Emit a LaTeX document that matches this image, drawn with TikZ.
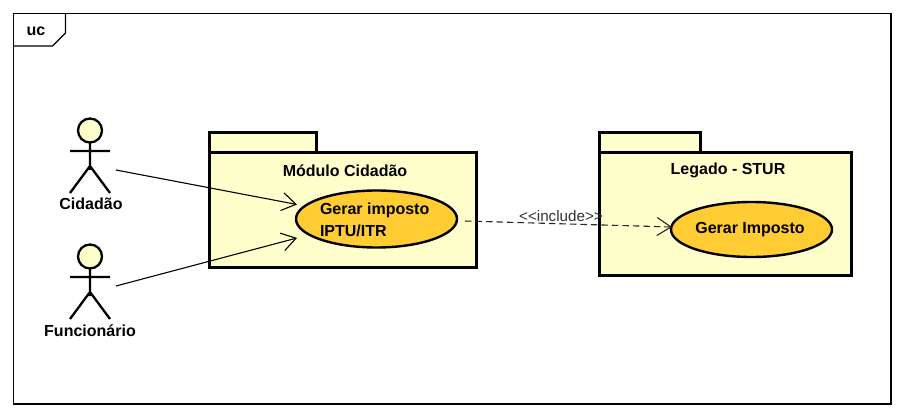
\documentclass[tikz,border=0pt]{standalone}
\usepackage{fontspec}
\setmainfont{Liberation Sans}
\usetikzlibrary{arrows.meta,shapes.geometric,calc}
\definecolor{pale}{HTML}{FFFFCC}
\definecolor{usecase}{HTML}{FFCC33}
\tikzset{
  x=1pt,y=-1pt,
  frame/.style={draw=black,line width=1.1pt},
  pkg/.style={draw=black,fill=pale,line width=3pt,line join=miter},
  ucase/.style={draw=black,fill=usecase,ellipse,line width=2.4pt,inner sep=0pt,outer sep=0pt},
  boldtext/.style={font=\fontsize{16}{22}\selectfont\bfseries,text=black,inner sep=0pt,outer sep=0pt},
  thintext/.style={font=\fontsize{15.2}{16}\selectfont,text=black!80,inner sep=0pt},
  figure/.style={draw=black,line width=2.3pt},
  actorbox/.style={minimum width=52pt,minimum height=48pt,inner sep=0pt,outer sep=0pt},
  assoc/.style={draw=black,line width=1.1pt,-{Straight Barb[length=14pt,width=18pt,line width=1.1pt]}},
  incl/.style={draw=black!85,line width=1.1pt,dash pattern=on 6.5pt off 4pt,-{Straight Barb[length=14pt,width=18pt,line width=1.1pt]}},
}
\newcommand{\stickman}[2]{%
  \draw[figure,fill=pale] (#1,#2-39.5) circle (12);
  \draw[figure] (#1,#2-27) -- (#1,#2+0)
    (#1-20,#2-19) -- (#1+20,#2-19)
    (#1-20,#2+23) -- (#1,#2-4) -- (#1+20,#2+23);
}
\begin{document}
\begin{tikzpicture}
\useasboundingbox (0,0) rectangle (905,417);
\fill[white] (0,0) rectangle (905,417);
% frame
\draw[frame] (13.5,13.5) rectangle (891,404);
\draw[frame] (65.5,13.5) -- (65.5,33) -- (52.5,46) -- (13.5,46);
\node[boldtext] (uclabel) at (36,31) {uc};
% packages
\draw[pkg] (209.5,152.5) rectangle (316.5,132.5);
\draw[pkg] (209.5,152.5) rectangle (476,267.5);
\node[boldtext] (modulo) at (345,170.5) {Módulo Cidadão};
\draw[pkg] (599.5,152.5) rectangle (700.5,132.5);
\draw[pkg] (599.5,152.5) rectangle (851,275.5);
\node[boldtext] (legado) at (728,170.5) {Legado - STUR};
% use cases
\node[ucase,minimum width=161pt,minimum height=57pt] (uc1) at (376.5,219) {};
\node[boldtext,anchor=west,align=left] (uc1text) at (320,220) {Gerar imposto\\IPTU/ITR};
\node[ucase,minimum width=161pt,minimum height=55pt] (uc2) at (751.5,229.5) {};
\node[boldtext] (uc2text) at (750,229.5) {Gerar Imposto};
% actors
\node[actorbox] (cidadao) at (90,170) {};
\stickman{90}{170}
\node[boldtext] (cidlabel) at (91,203.5) {Cidadão};
\node[actorbox] (funcionario) at (90,296) {};
\stickman{90}{296}
\node[boldtext] (funclabel) at (90,330.5) {Funcionário};
% connectors
\coordinate (t1) at ($(uc1.west)+(1,-14.5)$);
\coordinate (t2) at ($(uc1.west)+(1,19)$);
\coordinate (s3) at ($(uc1.east)+(8,2)$);
\coordinate (s4) at ($(funcionario.east)+(0,-10)$);
\coordinate (t3) at ($(uc2.west)+(1,-2.5)$);
\draw[assoc] (cidadao.east) -- (t1);
\draw[assoc] (s4) -- (t2);
\draw[incl] (s3) -- (t3);
\node[thintext] (incllabel) at (561,216) {<{}<include>{}>};
\end{tikzpicture}
\end{document}
